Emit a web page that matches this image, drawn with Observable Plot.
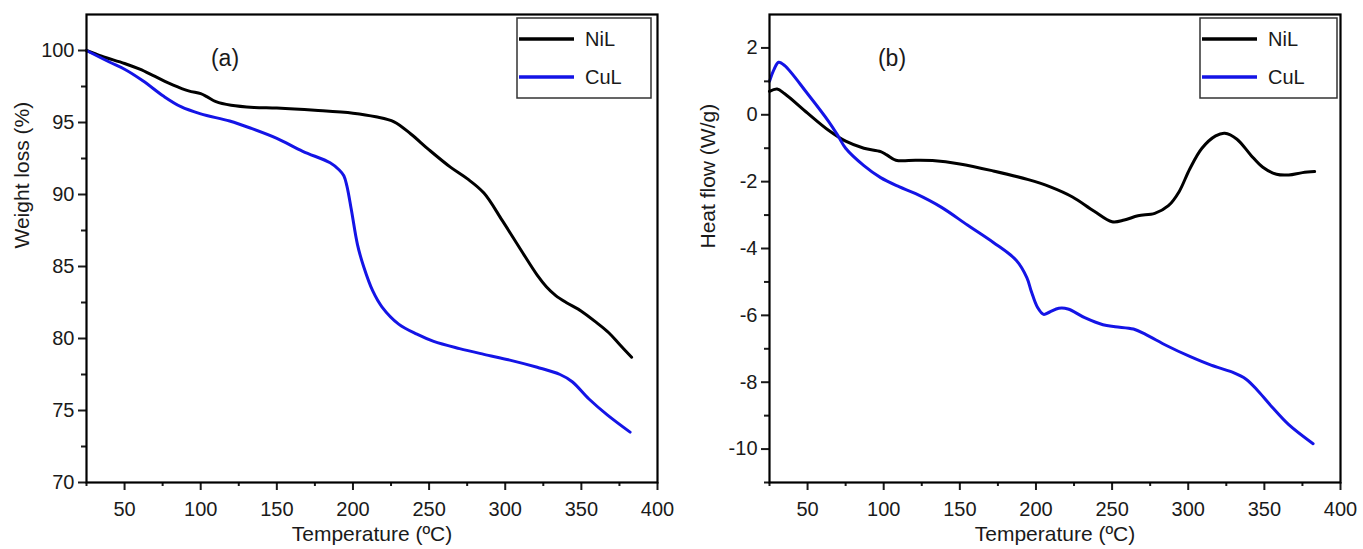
<!DOCTYPE html>
<html><head><meta charset="utf-8">
<script src="https://cdn.jsdelivr.net/npm/d3@7"></script>
<script src="https://cdn.jsdelivr.net/npm/@observablehq/plot@0.6"></script>
<style>
body{margin:0;background:#fff;}
#wrap{display:flex;width:1363px;height:549px;overflow:hidden;}
</style></head><body><div id="wrap"></div>
<script>
const seriesNames = ["NiL", "CuL"];
const seriesColors = ["#000000", "#1414e6"];
const xMajor = [50, 100, 150, 200, 250, 300, 350, 400];
const xMinor = [25, 75, 125, 175, 225, 275, 325, 375];
const tgaYMajor = [70, 75, 80, 85, 90, 95, 100];
const tgaYMinor = [72.5, 77.5, 82.5, 87.5, 92.5, 97.5];
const dscYMajor = [-10, -8, -6, -4, -2, 0, 2];
const dscYMinor = [-11, -9, -7, -5, -3, -1, 1];
const xTitle = "Temperature (ºC)";
const tgaTitle = "Weight loss (%)";
const dscTitle = "Heat flow (W/g)";

// TGA (a)
const tgaNiL_T = [25, 35, 50, 60, 70, 82, 92, 100, 104, 110, 120, 135, 150, 175, 200, 215, 227, 238, 250, 264, 275, 286, 298, 310, 321, 327, 333, 340, 350, 360, 368, 375, 383];
const tgaNiL_W = [100, 99.6, 99.1, 98.7, 98.2, 97.6, 97.2, 97.0, 96.8, 96.45, 96.2, 96.05, 96.0, 95.85, 95.65, 95.4, 95.05, 94.2, 93.1, 91.9, 91.1, 90.1, 88.2, 86.2, 84.4, 83.6, 83.0, 82.5, 81.9, 81.1, 80.4, 79.6, 78.7];
const tgaCuL_T = [25, 40, 50, 62, 76, 87, 100, 119, 133, 150, 167, 185, 191, 194, 196, 199, 203, 207, 213, 219, 230, 242, 253, 270, 286, 303, 321, 336, 344, 355, 367, 382];
const tgaCuL_W = [100, 99.2, 98.7, 97.9, 96.8, 96.1, 95.6, 95.1, 94.6, 93.9, 93.0, 92.2, 91.7, 91.3, 90.6, 88.9, 86.5, 85.0, 83.3, 82.2, 81.0, 80.3, 79.8, 79.3, 78.9, 78.5, 78.0, 77.5, 77.0, 75.8, 74.7, 73.5];

// DSC (b)
const dscNiL_T = [25, 30, 35, 50, 64, 75, 87, 98, 102, 108, 121, 132, 150, 172, 195, 209, 224, 238, 250, 258, 267, 278, 287, 294, 301, 309, 318, 324, 332, 341, 349, 358, 366, 375, 383];
const dscNiL_V = [0.70, 0.77, 0.63, 0.05, -0.47, -0.79, -1.0, -1.1, -1.2, -1.36, -1.36, -1.37, -1.47, -1.68, -1.94, -2.15, -2.46, -2.88, -3.2, -3.15, -3.02, -2.95, -2.72, -2.3, -1.62, -1.0, -0.63, -0.55, -0.73, -1.2, -1.57, -1.78, -1.80, -1.73, -1.70];
const dscCuL_T = [25, 28, 31, 35, 50, 64, 70, 75, 87, 98, 110, 121, 138, 155, 172, 187, 194, 197, 201, 205, 209, 215, 221, 232, 244, 252, 264, 272, 286, 301, 315, 329, 338, 346, 355, 366, 382];
const dscCuL_V = [1.0, 1.36, 1.57, 1.47, 0.63, -0.21, -0.63, -1.0, -1.52, -1.88, -2.15, -2.36, -2.77, -3.3, -3.82, -4.35, -4.87, -5.29, -5.76, -5.97, -5.9, -5.79, -5.81, -6.07, -6.28, -6.34, -6.41, -6.57, -6.91, -7.23, -7.49, -7.7, -7.91, -8.27, -8.74, -9.27, -9.84];

function rows(T, V, s) { return T.map((t, i) => ({t, v: V[i], s})); }
const tgaRows = [...rows(tgaNiL_T, tgaNiL_W, "NiL"), ...rows(tgaCuL_T, tgaCuL_W, "CuL")];
const dscRows = [...rows(dscNiL_T, dscNiL_V, "NiL"), ...rows(dscCuL_T, dscCuL_V, "CuL")];

const FONT = "'Liberation Sans', Arial, Helvetica, sans-serif";
const fmt = d => String(d);

function panel(o) {
  const svg = Plot.plot({
    width: o.width, height: 549,
    marginLeft: o.marginLeft, marginRight: o.marginRight, marginTop: 14, marginBottom: 67,
    style: {fontFamily: FONT, fontSize: "20px", color: "#1a1a1a", background: "#fff"},
    x: {domain: [25, 400], label: null},
    y: {domain: o.yDomain, label: null},
    color: {domain: seriesNames, range: seriesColors},
    marks: [
      Plot.line(o.rows, {x: "t", y: "v", z: "s", stroke: "s", strokeWidth: 3, curve: "catmull-rom"}),
      Plot.axisX({ticks: xMajor, tickSize: 8, tickPadding: 11, strokeWidth: 2, tickFormat: fmt, label: null, fontSize: 20}),
      Plot.axisX({ticks: xMinor, tickSize: 4, strokeWidth: 2, tickFormat: () => "", label: null}),
      Plot.axisY({ticks: o.yMajor, tickSize: 8, tickPadding: 4, strokeWidth: 2, tickFormat: fmt, label: null, fontSize: 20}),
      Plot.axisY({ticks: o.yMinor, tickSize: 5, strokeWidth: 2, tickFormat: () => "", label: null}),
      Plot.frame({stroke: "#000", strokeWidth: 2.2}),
      Plot.text([xTitle], {text: d => d, frameAnchor: "bottom", dy: 58, fontSize: 21, fill: "#1a1a1a"}),
      Plot.text([o.yTitle], {text: d => d, frameAnchor: "left", rotate: -90, dx: o.yTitleDx, fontSize: 21, fill: "#1a1a1a"})
    ]
  });
  const s = d3.select(svg);
  s.selectAll("text").filter(function() { return /^-?\d+$/.test(this.textContent); })
    .attr("font-size", 20).style("font-size", "20px");
  s.append("text").attr("x", o.tagX).attr("y", 58).attr("text-anchor", "middle")
    .attr("dominant-baseline", "central").attr("font-size", 23).attr("fill", "#1a1a1a").text(o.tag);
  const g = s.append("g");
  g.append("rect").attr("x", o.legX).attr("y", 18).attr("width", o.legW).attr("height", 80)
    .attr("fill", "#fff").attr("stroke", "#333").attr("stroke-width", 1.5);
  seriesNames.forEach((n, i) => {
    const y = 39 + i * 38;
    g.append("line").attr("x1", o.legX + 2).attr("x2", o.legX + 57).attr("y1", y).attr("y2", y)
      .attr("stroke", seriesColors[i]).attr("stroke-width", 3.5);
    g.append("text").attr("x", o.legX + 68).attr("y", y).attr("text-anchor", "start")
      .attr("dominant-baseline", "central")
      .attr("font-size", 20).attr("fill", "#1a1a1a").text(n);
  });
  return svg;
}

const wrap = document.getElementById("wrap");
wrap.appendChild(panel({
  width: 681, marginLeft: 86, marginRight: 24, yDomain: [70, 102.5],
  yMajor: tgaYMajor, yMinor: tgaYMinor, rows: tgaRows, yTitle: tgaTitle, yTitleDx: -64,
  tag: "(a)", tagX: 225, legX: 517, legW: 134
}));
wrap.appendChild(panel({
  width: 682, marginLeft: 88, marginRight: 23, yDomain: [-11, 3],
  yMajor: dscYMajor, yMinor: dscYMinor, rows: dscRows, yTitle: dscTitle, yTitleDx: -61,
  tag: "(b)", tagX: 211, legX: 519, legW: 137
}));
</script></body></html>
